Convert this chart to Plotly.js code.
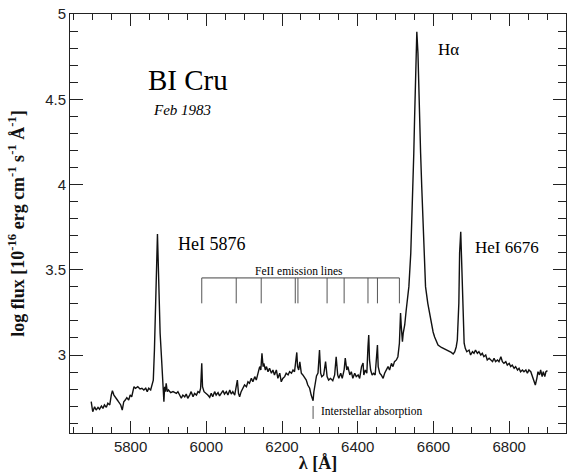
<!DOCTYPE html>
<html>
<head>
<meta charset="utf-8">
<script src="https://cdn.plot.ly/plotly-3.0.1.min.js"></script>
<style>
  html, body { margin: 0; padding: 0; background: #fff; }
  #chart { width: 567px; height: 473px; }
</style>
</head>
<body>
<div id="chart"></div>
<script>
// BI Cru optical spectrum, Feb 1983: wavelength (Å) and log flux
const wavelength = [
  5696, 5700, 5705, 5709, 5714, 5718, 5723, 5727, 5731, 5736, 5740, 5745, 5749, 5752, 5756, 5760,
  5765, 5768, 5774, 5778, 5782, 5786, 5790, 5795, 5799, 5803, 5809, 5813, 5819, 5825, 5830, 5835,
  5840, 5844, 5848, 5853, 5856, 5860, 5863, 5866, 5869, 5871, 5873, 5875, 5878, 5882, 5885, 5888,
  5890, 5892, 5894, 5897, 5900, 5906, 5912, 5916, 5921, 5925, 5929, 5934, 5938, 5943, 5947, 5951,
  5956, 5960, 5965, 5969, 5974, 5978, 5982, 5985, 5988, 5990, 5994, 6000, 6004, 6009, 6013, 6017,
  6022, 6026, 6031, 6035, 6040, 6044, 6048, 6053, 6057, 6062, 6066, 6070, 6075, 6079, 6082, 6085,
  6088, 6092, 6097, 6101, 6106, 6110, 6114, 6119, 6123, 6128, 6132, 6136, 6141, 6144, 6147, 6150,
  6152, 6156, 6159, 6163, 6167, 6172, 6176, 6180, 6185, 6189, 6194, 6198, 6202, 6207, 6211, 6216,
  6220, 6225, 6229, 6233, 6236, 6239, 6241, 6244, 6247, 6251, 6255, 6260, 6264, 6268, 6273, 6277,
  6282, 6284, 6288, 6291, 6295, 6297, 6299, 6302, 6305, 6310, 6315, 6319, 6323, 6328, 6334, 6339,
  6343, 6347, 6350, 6355, 6359, 6364, 6367, 6371, 6374, 6379, 6383, 6387, 6392, 6396, 6401, 6405,
  6410, 6414, 6416, 6420, 6424, 6427, 6429, 6431, 6434, 6438, 6442, 6446, 6449, 6452, 6454, 6458,
  6462, 6467, 6471, 6476, 6480, 6484, 6489, 6493, 6497, 6502, 6506, 6510, 6513, 6515, 6518, 6520,
  6524, 6528, 6533, 6535, 6540, 6543, 6546, 6548, 6550, 6553, 6555, 6556, 6559, 6561, 6564, 6566,
  6569, 6572, 6575, 6579, 6585, 6590, 6594, 6599, 6603, 6608, 6612, 6621, 6630, 6638, 6647, 6652,
  6656, 6660, 6663, 6667, 6669, 6672, 6675, 6678, 6681, 6684, 6688, 6694, 6698, 6703, 6707, 6711,
  6716, 6720, 6725, 6729, 6733, 6738, 6742, 6747, 6751, 6756, 6760, 6764, 6769, 6773, 6778, 6782,
  6786, 6791, 6795, 6800, 6804, 6808, 6813, 6817, 6822, 6826, 6830, 6835, 6839, 6844, 6848, 6852,
  6857, 6861, 6866, 6869, 6873, 6876, 6880, 6883, 6887, 6890, 6894, 6897, 6901
];
const logFlux = [
  2.726, 2.667, 2.697, 2.677, 2.693, 2.682, 2.701, 2.687, 2.707, 2.693, 2.717, 2.707, 2.765, 2.791, 2.765, 2.755,
  2.736, 2.726, 2.707, 2.677, 2.726, 2.736, 2.750, 2.736, 2.765, 2.755, 2.814, 2.805, 2.814, 2.801, 2.805, 2.795,
  2.805, 2.785, 2.805, 2.795, 2.824, 2.853, 3.029, 3.323, 3.557, 3.710, 3.545, 3.323, 3.129, 2.971, 2.853, 2.726,
  2.814, 2.785, 2.834, 2.785, 2.795, 2.779, 2.785, 2.779, 2.775, 2.785, 2.771, 2.746, 2.765, 2.755, 2.771, 2.746,
  2.765, 2.785, 2.755, 2.775, 2.765, 2.785, 2.779, 2.805, 2.951, 2.814, 2.785, 2.775, 2.765, 2.752, 2.775, 2.755,
  2.785, 2.765, 2.779, 2.760, 2.775, 2.791, 2.771, 2.785, 2.765, 2.795, 2.771, 2.785, 2.765, 2.805, 2.853, 2.775,
  2.755, 2.785, 2.805, 2.824, 2.814, 2.843, 2.834, 2.863, 2.843, 2.873, 2.853, 2.893, 2.932, 2.912, 3.010, 2.932,
  2.951, 2.912, 2.932, 2.902, 2.922, 2.893, 2.912, 2.883, 2.912, 2.863, 2.893, 2.843, 2.863, 2.873, 2.893, 2.883,
  2.902, 2.893, 2.912, 2.902, 2.951, 3.015, 2.932, 2.912, 2.960, 2.893, 2.883, 2.863, 2.853, 2.824, 2.805, 2.765,
  2.732, 2.783, 2.842, 2.877, 2.894, 2.971, 3.029, 2.893, 2.873, 2.883, 2.961, 2.873, 2.853, 2.863, 2.849, 2.883,
  2.990, 2.883, 2.863, 2.893, 2.863, 2.912, 2.982, 2.912, 2.932, 2.883, 2.902, 2.863, 2.893, 2.873, 2.883, 2.863,
  2.932, 2.953, 2.883, 2.912, 2.893, 3.049, 3.117, 2.971, 2.912, 2.883, 2.893, 2.883, 2.951, 3.059, 2.932, 2.893,
  2.883, 2.863, 2.893, 2.912, 2.932, 2.912, 2.951, 2.932, 2.961, 2.971, 2.990, 3.069, 3.246, 3.166, 3.078, 3.127,
  3.176, 3.264, 3.362, 3.401, 3.596, 3.792, 3.987, 4.183, 4.378, 4.574, 4.769, 4.896, 4.769, 4.574, 4.378, 4.183,
  3.987, 3.792, 3.596, 3.401, 3.303, 3.245, 3.176, 3.135, 3.106, 3.078, 3.059, 3.044, 3.035, 3.023, 3.015, 3.006,
  3.018, 3.047, 3.088, 3.305, 3.598, 3.723, 3.499, 3.205, 3.069, 3.039, 3.019, 3.029, 3.000, 3.019, 3.010, 3.029,
  3.010, 3.019, 3.000, 3.010, 2.990, 3.000, 2.971, 2.981, 2.971, 2.961, 2.981, 2.961, 2.971, 2.961, 2.990, 2.961,
  2.951, 2.961, 2.941, 2.951, 2.932, 2.941, 2.922, 2.932, 2.912, 2.922, 2.902, 2.912, 2.902, 2.912, 2.893, 2.912,
  2.902, 2.873, 2.834, 2.824, 2.863, 2.902, 2.883, 2.912, 2.873, 2.902, 2.873, 2.902, 2.908
];

// FeII emission line identifications (Å)
const feIILines = [5988, 6079, 6145, 6235, 6242, 6319, 6364, 6427, 6452, 6510];
const feIIBarTop = 3.452;
const feIIBarBottom = 3.303;

// Interstellar absorption marker
const interstellarLine = 6282;
const interstellarMark = [2.701, 2.625];

const serif = '"Liberation Serif", "Times New Roman", serif';
const sans = '"Liberation Sans", Arial, sans-serif';
const inkColor = '#222';

const shapes = [];
// horizontal bar grouping the FeII lines
shapes.push({
  type: 'line', xref: 'x', yref: 'y',
  x0: feIILines[0], x1: feIILines[feIILines.length - 1],
  y0: feIIBarTop, y1: feIIBarTop,
  line: { color: '#444', width: 1 }
});
feIILines.forEach(w => {
  shapes.push({
    type: 'line', xref: 'x', yref: 'y',
    x0: w, x1: w, y0: feIIBarTop, y1: feIIBarBottom,
    line: { color: '#555', width: 1 }
  });
});
shapes.push({
  type: 'line', xref: 'x', yref: 'y',
  x0: interstellarLine, x1: interstellarLine,
  y0: interstellarMark[0], y1: interstellarMark[1],
  line: { color: '#555', width: 1 }
});

const annotations = [
  { x: 5952, y: 4.613, text: 'BI Cru', font: { family: serif, size: 29, color: '#000' } },
  { x: 5937, y: 4.437, text: '<i>Feb 1983</i>', font: { family: serif, size: 15, color: '#000' } },
  { x: 6640, y: 4.789, text: 'Hα', font: { family: serif, size: 17, color: '#000' } },
  { x: 6015, y: 3.651, text: 'HeI 5876', font: { family: serif, size: 18, color: '#000' } },
  { x: 6793, y: 3.628, text: 'HeI 6676', font: { family: serif, size: 17, color: '#000' } },
  { x: 6244, y: 3.493, text: 'FeII emission lines', font: { family: serif, size: 11.5, color: '#000' } },
  { x: 6297, y: 2.666, text: 'Interstellar absorption', xanchor: 'left',
    font: { family: serif, size: 11.5, color: '#000' } }
].map(a => Object.assign({ xref: 'x', yref: 'y', showarrow: false, xanchor: 'center', yanchor: 'middle' }, a));

const spectrum = {
  x: wavelength,
  y: logFlux,
  type: 'scatter',
  mode: 'lines',
  line: { color: '#111', width: 1.4 },
  hoverinfo: 'x+y'
};

const layout = {
  width: 567,
  height: 473,
  margin: { l: 70, r: 1, t: 14, b: 40 },
  paper_bgcolor: '#fff',
  plot_bgcolor: '#fff',
  showlegend: false,
  xaxis: {
    range: [5640, 6950],
    showgrid: false,
    zeroline: false,
    showline: true,
    linecolor: inkColor,
    linewidth: 1,
    mirror: 'allticks',
    tickmode: 'linear',
    tick0: 5800,
    dtick: 200,
    ticks: 'inside',
    ticklen: 12,
    tickwidth: 1,
    tickcolor: inkColor,
    tickfont: { family: sans, size: 15, color: inkColor },
    minor: { dtick: 50, ticks: 'inside', ticklen: 6, tickwidth: 1, tickcolor: inkColor },
    title: { text: '<b>λ [Å]</b>', font: { family: serif, size: 18, color: '#111' }, standoff: 8 }
  },
  yaxis: {
    range: [2.5425, 5.0],
    showgrid: false,
    zeroline: false,
    showline: true,
    linecolor: inkColor,
    linewidth: 1,
    mirror: 'allticks',
    tickmode: 'linear',
    tick0: 3,
    dtick: 0.5,
    ticks: 'inside',
    ticklen: 13,
    tickwidth: 1,
    tickcolor: inkColor,
    tickfont: { family: sans, size: 15, color: inkColor },
    minor: { dtick: 0.1, ticks: 'inside', ticklen: 8, tickwidth: 1, tickcolor: inkColor },
    title: {
      text: '<b>log flux [10<sup>-16</sup> erg cm<sup>-1</sup> s<sup>-1</sup> Å<sup>-1</sup>]</b>',
      font: { family: serif, size: 18, color: '#111' }
    }
  },
  shapes: shapes,
  annotations: annotations
};

Plotly.newPlot('chart', [spectrum], layout, { displayModeBar: false, staticPlot: true });
</script>
</body>
</html>
